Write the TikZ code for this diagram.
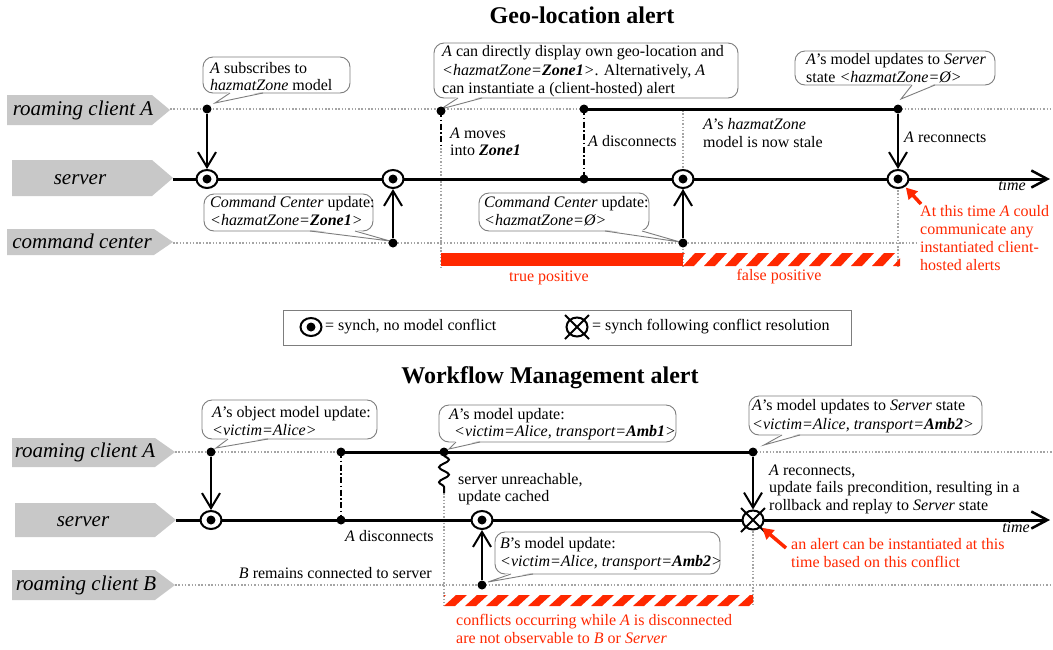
\documentclass[tikz,border=0pt]{standalone}
\usepackage{fontspec}
\setmainfont{Liberation Serif}
\usetikzlibrary{arrows.meta,shapes.geometric,decorations.pathmorphing}
\definecolor{lanegray}{RGB}{200,200,200}
\definecolor{dotgray}{RGB}{165,165,165}
\definecolor{bubgray}{RGB}{125,125,125}
\definecolor{alertred}{RGB}{255,40,0}
\newcommand{\bub}[8]{%
  \draw[bubble] (#1,#2) rectangle (#3,#4);
  \fill[white] (#5,#4-1.5) -- (#7,#8) -- (#6,#4-1.5) -- cycle;
  \draw[draw=bubgray, line width=0.9] (#5,#4) -- (#7,#8) -- (#6,#4);
}
\newcommand{\hatchbar}[4]{%
  \begin{scope}
    \clip (#1,#2) rectangle (#3,#4);
    \pgfmathsetmacro{\hbstart}{#1-21}
    \pgfmathsetmacro{\hbnext}{#1}
    \foreach \xx in {\hbstart,\hbnext,...,#3}{
      \fill[alertred] (\xx,#4) -- (\xx+11,#4) -- (\xx+23,#2) -- (\xx+12,#2) -- cycle;
    }
  \end{scope}}
\begin{document}
\begin{tikzpicture}[x=1pt,y=-1pt,
  lanelbl/.style={font=\fontsize{21}{24}\selectfont\itshape, inner sep=0},
  txt/.style={font=\fontsize{16}{#1}\selectfont, inner sep=0, align=left, anchor=north west},
  txt/.default=17.5,
  redtxt/.style={txt=#1, text=alertred},
  redtxt/.default=18,
  ttl/.style={font=\fontsize{24}{28}\selectfont\bfseries, inner sep=0},
  gdot/.style={dotgray, line width=1.5, dash pattern=on 1.5pt off 1.8pt},
  lifeline/.style={line width=3},
  serverline/.style={line width=3, -{Straight Barb[length=16,width=17,line width=2.5]}},
  dot/.style={circle, fill=black, inner sep=0, minimum size=9},
  sync/.style={ellipse, draw, fill=white, line width=2, minimum width=21, minimum height=18, inner sep=0,
    path picture={\fill[black] (path picture bounding box.center) circle (4.5pt);}},
  xsync/.style={ellipse, draw, fill=white, line width=2, minimum width=21, minimum height=19, inner sep=0},
  msg/.style={line width=2, -{Straight Barb[length=15,width=18,line width=2]}},
  dashdot/.style={line width=2.5, dash pattern=on 6pt off 2.5pt on 1.5pt off 2.5pt},
  bubble/.style={draw=bubgray, line width=0.9, fill=white, rounded corners=10},
  redarrow/.style={alertred, line width=3.5, -{Triangle[length=11,width=12]}, shorten >=1}
]
\useasboundingbox (0,0) rectangle (1053,649);
\fill[white] (0,0) rectangle (1053,649);

% ---------------- titles
\node[ttl] (t1) at (582,15) {Geo-location alert};
\node[ttl] (t2) at (550,378) {Workflow Management alert};

% ================= TOP: Geo-location alert
% lane labels
\fill[lanegray] (7,95) -- (152,95) -- (170,110) -- (152,125) -- (7,125) -- cycle;
\node[lanelbl] (lA) at (83,110) {roaming client A};
\fill[lanegray] (12,160) -- (152,160) -- (173,178) -- (152,196) -- (12,196) -- cycle;
\node[lanelbl] (lS) at (80,180) {server};
\fill[lanegray] (7,229) -- (154,229) -- (173,242) -- (154,255) -- (7,255) -- cycle;
\node[lanelbl] (lC) at (82,241) {command center};

% coordinates
\coordinate (Ast) at (170,109); \coordinate (Aend) at (1053,109);
\coordinate (Sst) at (173,179); \coordinate (Send) at (1050,179);
\coordinate (Cst) at (173,243); \coordinate (Cend) at (918,243);
\coordinate (pa1) at (207,109);
\coordinate (pc2) at (393,243);
\coordinate (pa3) at (441,111);
\coordinate (pa4) at (584,109);
\coordinate (ps4) at (584,179);
\coordinate (pc5) at (683,243);
\coordinate (pa6) at (898,109);

% vertical guide lines
\coordinate (g1a) at (441,148); \coordinate (g1b) at (441,267);
\coordinate (g2a) at (683,110); \coordinate (g2b) at (683,267);
\coordinate (g3a) at (898,190); \coordinate (g3b) at (898,267);
\draw[gdot] (g1a) -- (g1b);
\draw[gdot] (g2a) -- (g2b);
\draw[gdot] (g3a) -- (g3b);

% lifelines
\draw[gdot] (Ast) -- (pa4);
\draw[lifeline] (pa4) -- (pa6);
\draw[gdot] (pa6) -- (Aend);
\draw[serverline] (Sst) -- (Send);
\draw[gdot] (Cst) -- (Cend);

% bars
\fill[alertred] (441,253) rectangle (683,266);
\hatchbar{683}{253}{900}{266}
\node[font=\fontsize{16}{18}\selectfont, text=alertred, inner sep=0] (tp) at (549,278) {true positive};
\node[font=\fontsize{16}{18}\selectfont, text=alertred, inner sep=0] (fp) at (779,277) {false positive};

% bubbles
\bub{203}{57}{350}{93}{230}{263}{215}{103}
\node[txt=17] (b1) at (210,62.5) {\textit{A} subscribes to\\\textit{hazmatZone} model};
\bub{434}{43}{738}{98}{458}{482}{441}{109}
\node[txt=18.5] (b2) at (442,45.5) {\textit{A} can directly display own geo-location and\\\textit{<hazmatZone=\textbf{Zone1}>}. Alternatively, \textit{A}\\can instantiate a (client-hosted) alert};
\bub{795}{51}{995}{85}{912}{935}{901}{99}
\node[txt=18] (b3) at (806,53.5) {\textit{A}’s model updates to \textit{Server}\\state \textit{<hazmatZone=Ø>}};
\bub{204}{194}{373}{231}{310}{355}{390}{241}
\node[txt=18] (b4) at (210,196.5) {\textit{Command Center} update:\\\textit{<hazmatZone=\textbf{Zone1}>}};
\bub{479}{193}{649}{231}{605}{642}{680}{242}
\node[txt=18] (b5) at (484,196.5) {\textit{Command Center} update:\\\textit{<hazmatZone=Ø>}};

% event nodes
\node[dot] (a1) at (pa1) {};
\node[sync] (s1) at (207,179) {};
\node[dot] (c2) at (pc2) {};
\node[sync] (s2) at (393,179) {};
\node[dot] (a3) at (pa3) {};
\coordinate (z3) at (441,148);
\node[dot] (a4) at (pa4) {};
\node[dot] (sv4) at (ps4) {};
\node[dot] (c5) at (pc5) {};
\node[sync] (s5) at (683,179) {};
\node[dot] (a6) at (pa6) {};
\node[sync] (s6) at (898,179) {};

% connectors
\draw[msg] (a1) -- (s1);
\draw[msg] (c2) -- (s2);
\draw[dashdot] (a3.center) -- (z3);
\draw[dashdot] (a4.center) -- (sv4.center);
\draw[msg] (c5) -- (s5);
\draw[msg] (a6) -- (s6);

% labels
\node[txt=17] (m3) at (450,127.5) {\textit{A} moves\\into \textbf{\textit{Zone1}}};
\node[txt] (m4) at (588,135.5) {\textit{A} disconnects};
\node[txt=18] (m5) at (703,118.5) {\textit{A}’s \textit{hazmatZone}\\model is now stale};
\node[txt] (m6) at (904,131.5) {\textit{A} reconnects};
\node[font=\fontsize{16}{18}\selectfont\itshape, inner sep=0, anchor=east] (tm1) at (1026,185) {time};

% red note
\coordinate (ra1) at (921,204);
\draw[redarrow] (ra1) -- (s6);
\node[redtxt=18] (r1) at (920,205.5) {At this time \textit{A} could\\communicate any\\instantiated client-\\hosted alerts};

% legend
\draw[bubgray, line width=0.9] (283,310) rectangle (851,345);
\node[sync] (lg1) at (311,327) {};
\node[font=\fontsize{16}{18}\selectfont, inner sep=0, anchor=west] (lg1t) at (325,327) {= synch, no model conflict};
\node[xsync] (lg2) at (577,327) {};
\draw[line width=2] (lg2.center) +(-12,-12) -- +(12,12);
\draw[line width=2] (lg2.center) +(-12,12) -- +(12,-12);
\node[font=\fontsize{16}{18}\selectfont, inner sep=0, anchor=west] (lg2t) at (592,327) {= synch following conflict resolution};

% ================= BOTTOM: Workflow Management alert
\fill[lanegray] (12,438) -- (155,438) -- (175,452) -- (155,467) -- (12,467) -- cycle;
\node[lanelbl] (lA2) at (85,452) {roaming client A};
\fill[lanegray] (15,503) -- (155,503) -- (176,520) -- (155,537) -- (15,537) -- cycle;
\node[lanelbl] (lS2) at (83,522) {server};
\fill[lanegray] (12,570) -- (155,570) -- (175,585) -- (155,600) -- (12,600) -- cycle;
\node[lanelbl] (lB2) at (86,585) {roaming client B};

\coordinate (A2st) at (175,452); \coordinate (A2end) at (1053,452);
\coordinate (S2st) at (176,520); \coordinate (S2end) at (1050,520);
\coordinate (B2st) at (175,585); \coordinate (B2end) at (1053,585);
\coordinate (qa1) at (211,452);
\coordinate (qa2) at (341,452);
\coordinate (qs2) at (341,520);
\coordinate (qa3) at (444,452);
\coordinate (qz3) at (444,493);
\coordinate (qb4) at (482,585);
\coordinate (qa5) at (753,452);

\coordinate (h1a) at (444,493); \coordinate (h1b) at (444,606);
\coordinate (h2a) at (753,531); \coordinate (h2b) at (753,606);
\draw[gdot] (h1a) -- (h1b);
\draw[gdot] (h2a) -- (h2b);

\draw[gdot] (A2st) -- (qa2);
\draw[lifeline] (qa2) -- (qa5);
\draw[gdot] (qa5) -- (A2end);
\draw[serverline] (S2st) -- (S2end);
\draw[gdot] (B2st) -- (B2end);

\hatchbar{444}{595}{753}{606}

% bubbles
\bub{202}{400}{377}{439}{228}{268}{216}{448}
\node[txt=17.5] (d1) at (212,406.5) {\textit{A}’s object model update:\\\textit{<victim=Alice>}};
\bub{439}{405}{676}{442}{456}{480}{449}{449}
\node[txt=17] (d2) at (449,408.5) {\textit{A}’s model update:\\\hspace{5pt}\textit{<victim=Alice, transport=\textbf{Amb1}>}};
\bub{495}{532}{720}{574}{511}{533}{488}{582}
\node[txt=18] (d3) at (500,537.5) {\textit{B}’s model update:\\\textit{<victim=Alice, transport=\textbf{Amb2}>}};
\bub{749}{396}{982}{435}{782}{800}{764}{445}
\node[txt=19] (d4) at (752,399.5) {\textit{A}’s model updates to \textit{Server} state\\\textit{<victim=Alice, transport=\textbf{Amb2}>}};

% event nodes
\node[dot] (e1) at (qa1) {};
\node[sync] (u1) at (211,520) {};
\node[dot] (e2) at (qa2) {};
\node[dot] (u2) at (qs2) {};
\node[dot] (e3) at (qa3) {};
\node[dot] (e4) at (qb4) {};
\node[sync] (u4) at (482,520) {};
\node[dot] (e5) at (qa5) {};
\node[xsync] (u5) at (753,520) {};
\draw[line width=2] (u5.center) +(-12,-12) -- +(12,12);
\draw[line width=2] (u5.center) +(-12,12) -- +(12,-12);

% connectors
\draw[msg] (e1) -- (u1);
\draw[dashdot] (e2.center) -- (u2.center);
\draw[line width=2, decorate, decoration={snake, amplitude=5pt, segment length=15pt, pre length=3pt, post length=2pt}] (e3.center) -- (qz3);
\draw[msg] (e4) -- (u4);
\draw[msg] (e5) -- (u5);

% labels
\node[txt=17] (n3) at (458,473.5) {server unreachable,\\update cached};
\node[txt] (n2) at (345,530.5) {\textit{A} disconnects};
\node[txt, anchor=north east] (n2b) at (432,567.5) {\textit{B} remains connected to server};
\node[txt=17.5] (n5) at (769,464.5) {\textit{A} reconnects,\\update fails precondition, resulting in a\\rollback and replay to \textit{Server} state};
\node[font=\fontsize{16}{18}\selectfont\itshape, inner sep=0, anchor=east] (tm2) at (1030,527) {time};

\coordinate (ra2) at (786,548);
\draw[redarrow] (ra2) -- (u5);
\node[redtxt=18] (r2) at (791,538.5) {an alert can be instantiated at this\\time based on this conflict};
\node[redtxt=18] (r3) at (456,614.5) {conflicts occurring while \textit{A} is disconnected\\are not observable to \textit{B} or \textit{Server}};
\end{tikzpicture}
\end{document}
